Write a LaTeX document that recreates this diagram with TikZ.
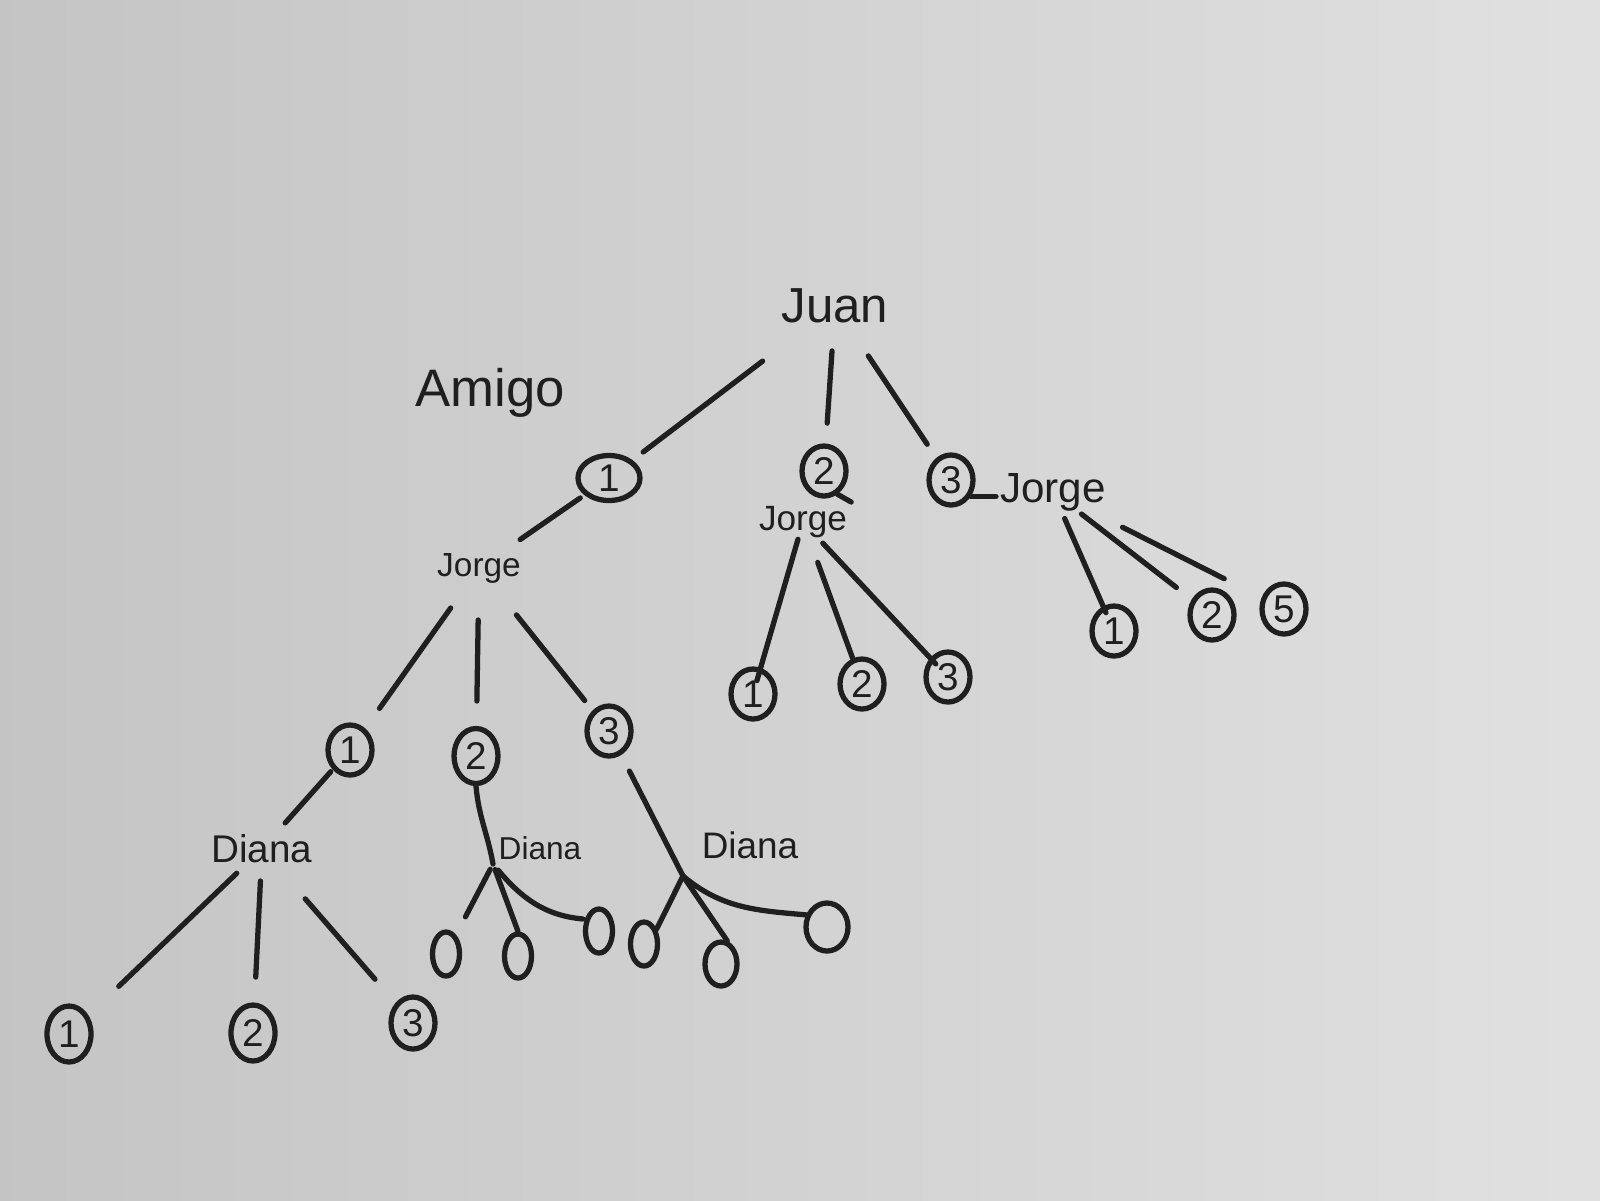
\documentclass[tikz,border=0pt]{standalone}
\usepackage{fontspec}
\setmainfont{Liberation Sans}
\usetikzlibrary{shapes.geometric}
\begin{document}
\begin{tikzpicture}[
  ink/.style={draw=black!88, line width=1.5pt, line cap=round},
  lbl/.style={text=black!88, inner sep=1pt},
  num/.style={ellipse, ink, minimum width=0.44cm, minimum height=0.50cm, inner sep=0pt, font=\fontsize{11}{12}\selectfont, text=black!88},
  wide/.style={num, minimum width=0.62cm, minimum height=0.45cm},
  oval/.style={ellipse, ink, minimum width=0.27cm, minimum height=0.44cm, inner sep=0pt},
  edge/.style={ink}
]
\useasboundingbox (0,0) rectangle (16,-12);
\shade[left color=black!23, right color=black!12] (0,0) rectangle (16,-12);

% labels
\node[lbl, font=\fontsize{14}{16}\selectfont] (juan) at (8.35,-3.06) {Juan};
\node[lbl, font=\fontsize{15}{17}\selectfont] (amigo) at (4.90,-3.93) {Amigo};
\node[lbl, font=\fontsize{9.5}{11}\selectfont] (jorgeA) at (4.79,-5.68) {Jorge};
\node[lbl, font=\fontsize{10}{12}\selectfont] (jorgeB) at (8.03,-5.22) {Jorge};
\node[lbl, font=\fontsize{12}{14}\selectfont] (jorgeC) at (10.53,-4.92) {Jorge};
\node[lbl, font=\fontsize{11}{13}\selectfont] (dianaA) at (2.62,-8.49) {Diana};
\node[lbl, font=\fontsize{9}{11}\selectfont] (dianaB) at (5.40,-8.48) {Diana};
\node[lbl, font=\fontsize{10.5}{12}\selectfont] (dianaC) at (7.50,-8.45) {Diana};

% level 1
\node[wide] (a1) at (6.09,-4.78) {1};
\node[num] (a2) at (8.24,-4.71) {2};
\node[num] (a3) at (9.51,-4.80) {3};

% level 2
\node[num] (b1) at (3.50,-7.50) {1};
\node[num, minimum height=0.55cm] (b2) at (4.76,-7.56) {2};
\node[num] (b3) at (6.09,-7.31) {3};
\node[num] (c1) at (7.53,-6.94) {1};
\node[num] (c2) at (8.62,-6.84) {2};
\node[num] (c3) at (9.48,-6.77) {3};
\node[num] (e1) at (11.14,-6.31) {1};
\node[num] (e2) at (12.12,-6.15) {2};
\node[num] (e3) at (12.84,-6.09) {5};

% level 3
\node[num, minimum height=0.56cm] (f1) at (0.69,-10.34) {1};
\node[num, minimum height=0.56cm] (f2) at (2.53,-10.33) {2};
\node[num, minimum height=0.52cm] (f3) at (4.13,-10.23) {3};
\node[oval] (g1) at (4.46,-9.54) {};
\node[oval] (g2) at (5.18,-9.56) {};
\node[oval] (g3) at (5.99,-9.31) {};
\node[oval] (h1) at (6.44,-9.44) {};
\node[oval, minimum width=0.32cm] (h2) at (7.21,-9.64) {};
\node[oval, minimum width=0.42cm, minimum height=0.48cm] (h3) at (8.27,-9.27) {};

\coordinate (j2) at (4.93,-8.64);
\coordinate (j3) at (6.83,-8.76);

% edges from Juan
\draw[edge, shorten <=0.91cm, shorten >=0.43cm] (juan.center) -- (a1.center);
\draw[edge, shorten <=0.45cm, shorten >=0.48cm] (juan.center) -- (a2.center);
\draw[edge, shorten <=0.60cm, shorten >=0.43cm] (juan.center) -- (a3.center);

% level 1 to Jorge
\draw[edge, shorten <=0.35cm, shorten >=0.50cm] (a1.center) -- (jorgeA.center);
\draw[edge] (a2.-60) -- (jorgeB.north east);
\draw[edge] (a3.-40) -- (a3.-40 -| jorgeC.west);

% Jorge A
\draw[edge, shorten <=0.49cm, shorten >=0.51cm] (jorgeA.center) -- (b1.center);
\draw[edge, shorten <=0.52cm, shorten >=0.55cm] (jorgeA.center) -- (b2.center);
\draw[edge, shorten <=0.60cm, shorten >=0.39cm] (jorgeA.center) -- (b3.center);

% Jorge B
\draw[edge, shorten <=0.18cm, shorten >=0.14cm] (jorgeB.center) -- (c1.center);
\draw[edge, shorten <=0.43cm, shorten >=0.26cm] (jorgeB.center) -- (c2.center);
\draw[edge, shorten <=0.29cm, shorten >=0.18cm] (jorgeB.center) -- (c3.center);

% Jorge C
\draw[edge, shorten <=0.29cm, shorten >=0.20cm] (jorgeC.center) -- (e1.center);
\draw[edge, shorten <=0.36cm, shorten >=0.45cm] (jorgeC.center) -- (e2.center);
\draw[edge, shorten <=0.78cm, shorten >=0.67cm] (jorgeC.center) -- (e3.center);

% to Diana
\draw[edge, shorten <=0.29cm, shorten >=0.35cm] (b1.center) -- (dianaA.center);
\draw[edge] (b2.south) to[out=-85, in=100] (j2);
\draw[edge, shorten <=0.45cm] (b3.center) -- (j3);

% Diana A children
\draw[edge, shorten <=0.35cm, shorten >=0.69cm] (dianaA.center) -- (f1.center);
\draw[edge, shorten <=0.32cm, shorten >=0.56cm] (dianaA.center) -- (f2.center);
\draw[edge, shorten <=0.66cm, shorten >=0.58cm] (dianaA.center) -- (f3.center);

% Diana B children
\draw[edge, shorten <=0.06cm, shorten >=0.42cm] (j2) -- (g1.center);
\draw[edge, shorten <=0.06cm] (j2) -- (g2.north);
\draw[edge, shorten <=0.08cm, shorten >=0.02cm] (j2) to[out=-50, in=175] (g3.140);

% Diana C children
\draw[edge] (j3) -- (h1.50);
\draw[edge] (j3) -- (h2.75);
\draw[edge] (j3) to[out=-40, in=175] (h3.150);
\end{tikzpicture}
\end{document}
